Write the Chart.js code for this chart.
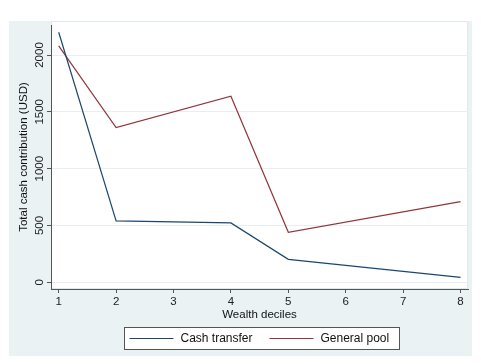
<!DOCTYPE html>
<html lang="en">
<head>
<meta charset="utf-8"/>
<title>Total cash contribution by wealth decile</title>
<script src="https://cdn.jsdelivr.net/npm/chart.js@4.4.1/dist/chart.umd.min.js"></script>
<style>
	html, body { margin: 0; padding: 0; background: #fff; }
	.main { width: 481px; height: 364px; }
</style>
</head>
<body>
<div class="main"><canvas id="myChart" width="481" height="364"></canvas></div>
<script>
	// values
	const deciles = [1, 2, 4, 5, 8];
	const cashTransfer = [2200, 540, 522, 202, 44];
	const generalPool = [2080, 1361, 1637, 440, 710];
	const xTicks = [1, 2, 3, 4, 5, 6, 7, 8];
	const yTicks = [0, 500, 1000, 1500, 2000];

	const FONT = "'Liberation Sans', Arial, Helvetica, sans-serif";
	const NAVY = '#1a476f';
	const MAROON = '#90353b';

	// grey graph region + white plot region (Stata look)
	const backdrop = {
		id: 'backdrop',
		beforeDraw(chart) {
			const ctx = chart.ctx, a = chart.chartArea;
			ctx.save();
			ctx.fillStyle = '#fff';
			ctx.fillRect(0, 0, chart.width, chart.height);
			ctx.fillStyle = '#eaf2f3';
			ctx.fillRect(9, 21, 463, 335);
			ctx.fillStyle = '#fff';
			ctx.fillRect(a.left, a.top - 4, a.right - a.left, a.bottom - a.top + 4);
			ctx.strokeStyle = '#dfe8eb';
			ctx.lineWidth = 1;
			ctx.strokeRect(a.left + 0.5, a.top - 3.5, a.right - a.left - 1, a.bottom - a.top + 3);
			ctx.restore();
		}
	};

	// boxed legend under the axis title
	const boxLegend = {
		id: 'boxLegend',
		afterDraw(chart) {
			const ctx = chart.ctx, a = chart.chartArea;
			const cx = (a.left + a.right) / 2;
			const left = Math.round(cx - 136) + 0.5;
			const top = a.bottom + 38.5;
			const w = 275, h = 22;
			ctx.save();
			ctx.fillStyle = '#fff';
			ctx.fillRect(left, top, w, h);
			ctx.strokeStyle = '#555';
			ctx.lineWidth = 1;
			ctx.strokeRect(left, top, w, h);
			const items = [
				{ ds: chart.data.datasets[0], x: left + 5 },
				{ ds: chart.data.datasets[1], x: left + 145 }
			];
			ctx.font = '12px ' + FONT;
			ctx.textBaseline = 'middle';
			ctx.textAlign = 'left';
			items.forEach(it => {
				const y = top + h / 2;
				ctx.strokeStyle = it.ds.borderColor;
				ctx.lineWidth = 1.2;
				ctx.beginPath();
				ctx.moveTo(it.x, y);
				ctx.lineTo(it.x + 44, y);
				ctx.stroke();
				ctx.fillStyle = '#111';
				ctx.fillText(it.ds.label, it.x + 51, y + 0.5);
			});
			ctx.restore();
		}
	};

	const ctx1 = document.getElementById('myChart').getContext('2d');
	const chart1 = new Chart(ctx1, {
		type: 'line',
		data: {
			datasets: [
				{
					label: 'Cash transfer',
					data: deciles.map((d, i) => ({ x: d, y: cashTransfer[i] })),
					borderColor: NAVY,
					backgroundColor: NAVY,
					borderWidth: 1.2,
					pointRadius: 0,
					tension: 0
				},
				{
					label: 'General pool',
					data: deciles.map((d, i) => ({ x: d, y: generalPool[i] })),
					borderColor: MAROON,
					backgroundColor: MAROON,
					borderWidth: 1.2,
					pointRadius: 0,
					tension: 0
				}
			]
		},
		options: {
			responsive: false,
			animation: false,
			devicePixelRatio: 1,
			layout: {
				autoPadding: false,
				padding: { left: 9, top: 25, right: 13, bottom: 42 }
			},
			plugins: {
				legend: { display: false },
				tooltip: { enabled: false }
			},
			scales: {
				x: {
					type: 'linear',
					position: 'bottom',
					min: 0.866,
					max: 8.13,
					afterBuildTicks: s => { s.ticks = xTicks.map(v => ({ value: v })); },
					afterFit: s => { s.height = 33; s.paddingLeft = 0; s.paddingRight = 0; },
					grid: { drawOnChartArea: false, drawTicks: true, tickLength: 4, tickColor: '#555', tickWidth: 1 },
					border: { display: true, color: '#555', width: 1 },
					ticks: {
						font: { family: FONT, size: 11.5 },
						color: '#222',
						padding: 2,
						maxRotation: 0,
						minRotation: 0,
						callback: v => String(v)
					},
					title: {
						display: true,
						text: 'Wealth deciles',
						font: { family: FONT, size: 11.5 },
						color: '#111',
						padding: { top: 0, bottom: 0 }
					}
				},
				y: {
					type: 'linear',
					position: 'left',
					min: -59,
					max: 2264,
					afterBuildTicks: s => { s.ticks = yTicks.map(v => ({ value: v })); },
					afterFit: s => { s.width = 42; s.paddingTop = 0; s.paddingBottom = 0; },
					grid: { color: '#e9eff1', drawTicks: true, tickLength: 4, tickColor: '#555', tickWidth: 1 },
					border: { display: true, color: '#555', width: 1 },
					ticks: {
						font: { family: FONT, size: 11.5 },
						color: '#222',
						padding: -6,
						minRotation: 90,
						maxRotation: 90,
						crossAlign: 'center',
						callback: v => String(v)
					},
					title: {
						display: true,
						text: 'Total cash contribution (USD)',
						font: { family: FONT, size: 11.5 },
						color: '#111',
						padding: { top: 7.5, bottom: 0 }
					}
				}
			}
		},
		plugins: [backdrop, boxLegend]
	});
</script>
</body>
</html>
